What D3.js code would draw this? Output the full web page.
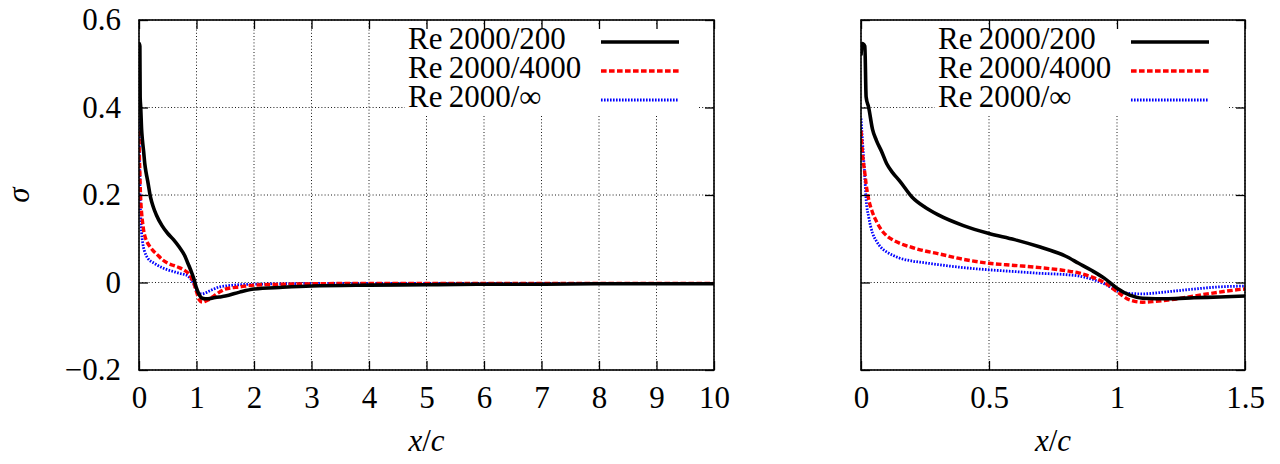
<!DOCTYPE html>
<html>
<head>
<meta charset="utf-8">
<script src="https://cdn.jsdelivr.net/npm/d3@7"></script>
<style>
  body { margin: 0; background: #fff; }
</style>
</head>
<body>
<script>
// x/c sample positions shared by all three runs
var xs = [0, 0.005, 0.015, 0.02, 0.03, 0.045, 0.06, 0.08, 0.1, 0.125, 0.15, 0.2, 0.25, 0.3, 0.4, 0.5,
  0.6, 0.7, 0.8, 0.85, 0.9, 0.95, 1.0, 1.05, 1.1, 1.15, 1.2, 1.3, 1.4, 1.5, 1.75, 2, 2.5, 3, 4, 5, 6, 7, 8, 9, 10];

var re200 = [0.519, 0.546, 0.54, 0.424, 0.40, 0.35, 0.325, 0.30, 0.272, 0.25, 0.233, 0.195, 0.172, 0.155, 0.13, 0.112,
  0.098, 0.081, 0.06, 0.044, 0.028, 0.01, -0.013, -0.029, -0.036, -0.037, -0.037, -0.035, -0.033, -0.031, -0.022, -0.015,
  -0.011, -0.008, -0.006, -0.005, -0.004, -0.004, -0.003, -0.003, -0.003];

var re4000 = [0.347, 0.30, 0.25, 0.225, 0.19, 0.16, 0.14, 0.12, 0.107, 0.097, 0.09, 0.08, 0.072, 0.066, 0.053, 0.044,
  0.039, 0.034, 0.027, 0.022, 0.013, 0.0, -0.021, -0.040, -0.045, -0.043, -0.040, -0.031, -0.022, -0.015, -0.010, -0.006,
  -0.004, -0.003, -0.002, -0.002, -0.002, -0.002, -0.002, -0.002, -0.002];

var reInf = [0.375, 0.33, 0.24, 0.19, 0.15, 0.113, 0.095, 0.079, 0.07, 0.062, 0.056, 0.049, 0.045, 0.041, 0.034, 0.029,
  0.025, 0.021, 0.018, 0.015, 0.008, -0.003, -0.018, -0.025, -0.026, -0.024, -0.021, -0.015, -0.010, -0.008, -0.005, -0.004,
  -0.003, -0.002, -0.002, -0.002, -0.002, -0.002, -0.002, -0.002, -0.002];

var legendLabels = ["Re\u20092000/200", "Re\u20092000/4000", "Re\u20092000/\u221e"];
var yTicks = [-0.2, 0, 0.2, 0.4, 0.6];
var xTicksLeft = [0, 1, 2, 3, 4, 5, 6, 7, 8, 9, 10];
var xTicksRight = [0, 0.5, 1, 1.5];

var series = [
  {vals: re200, color: "#000", width: 3.6, dash: null},
  {vals: re4000, color: "#ff0000", width: 3.4, dash: "5.6,2.4"},
  {vals: reInf, color: "#0000ff", width: 2.8, dash: "1.6,1.4"}
];

var FONT = '"Liberation Serif", "Times New Roman", serif';

var svg = d3.select("body").append("svg")
  .attr("width", 1280).attr("height", 464);
svg.append("rect").attr("width", 1280).attr("height", 464).attr("fill", "#fff");

var top_ = 20, bottom = 370, fs = 31;
var y = d3.scaleLinear().domain([-0.2, 0.6]).range([bottom, top_]);

function fmt(d) {
  if (d === 0) return "0";
  return (d < 0 ? "\u2212" : "") + String(Math.abs(d));
}

function label(sel) {
  return sel.attr("font-family", FONT).attr("font-size", fs).attr("fill", "#000");
}

function panel(opt) {
  var x = d3.scaleLinear().domain(opt.domain).range([opt.left, opt.right]);
  var g = svg.append("g");
  var id = "clip" + opt.left;
  svg.append("clipPath").attr("id", id).append("rect")
    .attr("x", opt.left).attr("y", top_).attr("width", opt.right - opt.left).attr("height", bottom - top_);

  // grid
  var grid = g.append("g").attr("stroke", "#000").attr("stroke-width", 0.9).attr("stroke-dasharray", "1,2.2");
  opt.ticks.forEach(function (t) {
    grid.append("line").attr("x1", x(t)).attr("x2", x(t)).attr("y1", top_).attr("y2", bottom);
  });
  yTicks.forEach(function (t) {
    grid.append("line").attr("x1", opt.left).attr("x2", opt.right).attr("y1", y(t)).attr("y2", y(t));
  });

  // key background
  g.append("rect").attr("x", opt.keyX).attr("y", 25).attr("width", 293).attr("height", 91).attr("fill", "#fff");

  // curves
  var line = d3.line().x(function (d) { return x(d[0]); }).y(function (d) { return y(d[1]); })
    .curve(d3.curveMonotoneX);
  var cg = g.append("g").attr("clip-path", "url(#" + id + ")");
  series.slice().reverse().forEach(function (s) {
    cg.append("path").datum(xs.map(function (v, i) { return [v, s.vals[i]]; }))
      .attr("d", line).attr("fill", "none").attr("stroke", s.color)
      .attr("stroke-width", s.width).attr("stroke-dasharray", s.dash)
      .attr("stroke-linejoin", "round");
  });

  // axes with inward ticks
  var ax = g.append("g").attr("transform", "translate(0," + bottom + ")")
    .call(d3.axisBottom(x).tickValues(opt.ticks).tickSize(-9).tickSizeOuter(0).tickPadding(16).tickFormat(fmt));
  var axT = g.append("g").attr("transform", "translate(0," + top_ + ")")
    .call(d3.axisTop(x).tickValues(opt.ticks).tickSize(-9).tickSizeOuter(0).tickFormat(""));
  var ayL = g.append("g").attr("transform", "translate(" + opt.left + ",0)")
    .call(d3.axisLeft(y).tickValues(yTicks).tickSize(-9).tickSizeOuter(0).tickPadding(18)
      .tickFormat(opt.yLabels ? fmt : ""));
  var ayR = g.append("g").attr("transform", "translate(" + opt.right + ",0)")
    .call(d3.axisRight(y).tickValues(yTicks).tickSize(-9).tickSizeOuter(0).tickFormat(""));
  [ax, axT, ayL, ayR].forEach(function (a) {
    a.select(".domain").remove();
    a.selectAll("line").attr("stroke", "#000").attr("stroke-width", 1.3);
    label(a.selectAll("text"));
  });

  g.append("rect").attr("x", opt.left).attr("y", top_)
    .attr("width", opt.right - opt.left).attr("height", bottom - top_)
    .attr("fill", "none").attr("stroke", "#000").attr("stroke-width", 1.6);

  // key
  legendLabels.forEach(function (lab, i) {
    var ly = 42 + i * 29;
    label(g.append("text")).attr("x", opt.keyX + 3).attr("y", ly + 7).text(lab);
    var s = series[i];
    g.append("line").attr("x1", opt.keyLine).attr("x2", opt.keyLine + 78).attr("y1", ly).attr("y2", ly)
      .attr("stroke", s.color).attr("stroke-width", s.width).attr("stroke-dasharray", s.dash);
  });

  // x label
  var xl = label(g.append("text")).attr("x", (opt.left + opt.right) / 2).attr("y", 451)
    .attr("text-anchor", "middle");
  xl.append("tspan").attr("font-style", "italic").text("x");
  xl.append("tspan").text("/");
  xl.append("tspan").attr("font-style", "italic").text("c");
}

panel({domain: [0, 10], left: 139, right: 714, ticks: xTicksLeft, yLabels: true, keyX: 405, keyLine: 601});
panel({domain: [0, 1.5], left: 861, right: 1245, ticks: xTicksRight, yLabels: false, keyX: 935, keyLine: 1131});

label(svg.append("text")).attr("transform", "translate(29,195) rotate(-90)")
  .attr("text-anchor", "middle").attr("font-style", "italic").text("\u03c3");
</script>
</body>
</html>
